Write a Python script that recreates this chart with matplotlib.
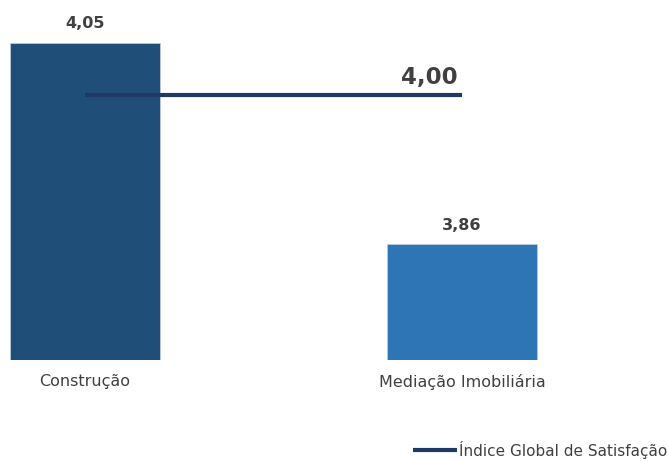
import matplotlib.pyplot as plt

# dados
categorias = ['Construção', 'Mediação Imobiliária']
valores = [4.05, 3.86]
rotulos = ['4,05', '3,86']
indice_global = 4.00
rotulo_indice = '4,00'
nome_indice = 'Índice Global de Satisfação'

cores = ['#1F4E79', '#2E75B6']
cor_linha = '#1F3864'
cor_texto = '#404040'

plt.rcParams['font.family'] = ['DejaVu Sans']

fig = plt.figure(figsize=(6.68, 4.61), dpi=100)
ax = fig.add_axes([0, 101 / 461, 1, 360 / 461])

x = list(range(len(categorias)))
ax.bar(x, valores, width=0.398, color=cores, edgecolor='#BFC9D6', linewidth=0.6, zorder=2)

for xi, v, r in zip(x, valores, rotulos):
    ax.annotate(r, (xi, v), xytext=(0, 8), textcoords='offset points',
                ha='center', va='bottom', fontsize=11.5, fontweight='bold', color=cor_texto)

linha, = ax.plot([x[0], x[-1]], [indice_global] * 2, color=cor_linha, lw=3,
                 solid_capstyle='butt', zorder=3, label=nome_indice)
ax.annotate(rotulo_indice, (x[-1], indice_global), xytext=(-3, 5), textcoords='offset points',
            ha='right', va='bottom', fontsize=16.5, fontweight='bold', color=cor_texto)

ax.set_xlim(-85 / 377, 583 / 377)
ax.set_ylim(3.75, 3.75 + 360 / 1058)
ax.set_xticks(x)
ax.set_xticklabels(categorias, fontsize=11.5, color=cor_texto)
ax.tick_params(axis='x', length=0, pad=10)
ax.set_yticks([])
for s in ax.spines.values():
    s.set_visible(False)

fig.legend(handles=[linha], loc='lower right', bbox_to_anchor=(1.02, -0.025), frameon=False,
           fontsize=11, handlelength=2.9, handletextpad=0.15, labelcolor=cor_texto)

fig.savefig('out.png', dpi=100)
